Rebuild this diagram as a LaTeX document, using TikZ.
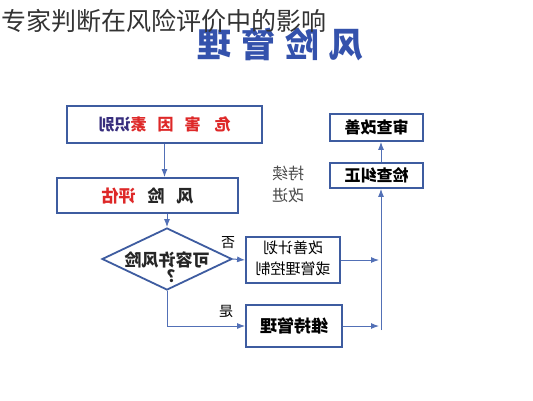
\documentclass[tikz,border=0pt]{standalone}
\usepackage{fontspec}
\setmainfont{Noto Sans CJK SC}
\usetikzlibrary{shapes.geometric,arrows.meta}
\definecolor{boxblue}{RGB}{62,92,160}
\definecolor{lineblue}{RGB}{82,112,182}
\definecolor{hazred}{RGB}{222,40,40}
\definecolor{navytxt}{RGB}{55,45,125}
\definecolor{headblue}{RGB}{52,82,172}
\newcommand{\flip}[1]{\reflectbox{#1}}
\newcommand{\fsz}[1]{\fontsize{#1}{#1}\selectfont}

\begin{document}
\begin{tikzpicture}[x=1pt,y=-1pt,
    box/.style={draw=boxblue,line width=1.8pt,inner sep=0pt},
    link/.style={draw=lineblue,line width=1pt,-{Latex[length=8pt,width=6pt]}},
    every node/.style={font=\fsz{17}}]
    \useasboundingbox[fill=white] (0,0) rectangle (533,400);
    % heading and title
    \node[text=headblue,font=\fsz{34}\bfseries] (head) at (280,44)
        {\flip{风\hspace{10pt}险\hspace{10pt}管\hspace{10pt}理}};
    \node[anchor=west,text=black!80,font=\fsz{25}] (title) at (-2,21)
        {专家判断在风险评价中的影响};
    % main column
    \node[box,minimum width=195pt,minimum height=37pt] (hazard) at (164.5,124.5)
        {\flip{\bfseries\fsz{16}\textcolor{hazred}{危\hspace{14pt}害\hspace{11pt}因\hspace{11pt}素}\textcolor{navytxt}{识别}}};
    \node[box,minimum width=181pt,minimum height=35pt] (assess) at (147.5,195.5)
        {\flip{\bfseries\textcolor{black!85}{风\hspace{12pt}险}\hspace{12pt}\textcolor{hazred}{评估}}};
    \node[diamond,draw=boxblue,line width=1.8pt,minimum width=130pt,
        minimum height=62pt,inner sep=0pt] (tolerable) at (167,259) {};
    \node[text=black!85,font=\fsz{17}\bfseries] (tolq) at (167,270)
        {\flip{\begin{tabular}{@{}c@{}}可容许风险\\[-2pt]？\end{tabular}}};
    \node[box,minimum width=94pt,minimum height=46pt] (improve) at (293,260)
        {\flip{\fsz{15}\begin{tabular}{@{}c@{}}改善计划\\[4pt]或管理控制\end{tabular}}};
    \node[box,minimum width=96pt,minimum height=42pt,font=\fsz{17}\bfseries] (maintain) at (294,326)
        {\flip{维持管理}};
    % right column
    \node[box,minimum width=93pt,minimum height=25pt,font=\fsz{16}\bfseries] (check) at (376.5,175.5)
        {\flip{检查纠正}};
    \node[box,minimum width=93pt,minimum height=27pt,font=\fsz{16}\bfseries] (review) at (376.5,127.5)
        {\flip{审查改善}};
    \node[text=black!70,font=\fsz{16}] (cont) at (288,186)
        {\flip{\begin{tabular}{@{}c@{}}持续\\[4pt]改进\end{tabular}}};
    \node[font=\fsz{14}] (no) at (228,243) {\flip{否}};
    \node[font=\fsz{14}] (yes) at (226,311) {\flip{是}};
    \coordinate (spine) at (381,330);
    % connectors
    \draw[link] (hazard.south) -- (hazard.south |- assess.north);
    \draw[link] (tolerable.north |- assess.south) -- (tolerable.north);
    \draw[link] (tolerable.east) -- (improve.west);
    \draw[link] (tolerable.south) |- (maintain.west);
    \foreach \b in {improve,maintain}
        \draw[link,shorten >=2pt] (\b.east) -- (\b.east -| spine);
    \draw[link] (spine) -- (spine |- check.south);
    \draw[link] (spine |- check.north) -- (spine |- review.south);
\end{tikzpicture}
\end{document}
